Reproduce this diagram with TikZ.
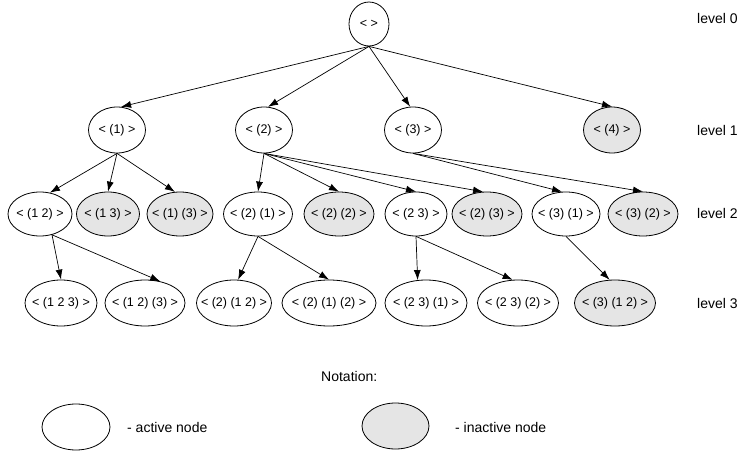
\documentclass[tikz,border=0pt]{standalone}
\usepackage{fontspec}
\setmainfont{Liberation Sans}
\usetikzlibrary{shapes.geometric,arrows.meta}
\newcommand\ndfont{\fontsize{12.5}{15}\selectfont}
\newcommand\lbfont{\fontsize{14}{17}\selectfont}
\newcommand\zb[1]{\makebox[0pt][c]{#1}}
\tikzset{
  nd/.style={ellipse, draw=black, line width=0.8pt, inner sep=0pt, font=\ndfont},
  act/.style={nd, fill=white},
  inact/.style={nd, fill=gray!20},
  edge/.style={-{Latex[length=10pt,width=7pt]}, line width=0.7pt},
  lvl/.style={font=\lbfont, anchor=west, inner sep=0pt}
}
\begin{document}
\begin{tikzpicture}[x=1pt,y=-1pt]
\useasboundingbox[fill=white] (0,0) rectangle (740,452);
% level 0
\node[act, minimum width=40pt, minimum height=44pt] (r) at (369,24) {\zb{< >}};
% level 1
\begin{scope}[every node/.append style={minimum height=46pt, minimum width=57pt}]
\node[act] (n1) at (117,130) {\zb{< (1) >}};
\node[act] (n2) at (264,130) {\zb{< (2) >}};
\node[act] (n3) at (413,130) {\zb{< (3) >}};
\node[inact] (n4) at (612,130) {\zb{< (4) >}};
\end{scope}
% level 2
\begin{scope}[every node/.append style={minimum height=44pt}]
\node[act, minimum width=64pt] (n12) at (40,214) {\zb{< (1 2) >}};
\node[inact, minimum width=63pt] (n13) at (108,214) {\zb{< (1 3) >}};
\node[inact, minimum width=66pt] (n1x3) at (180,214) {\zb{< (1) (3) >}};
\node[act, minimum width=69pt] (n2x1) at (258,214) {\zb{< (2) (1) >}};
\node[inact, minimum width=70pt] (n2x2) at (339,214) {\zb{< (2) (2) >}};
\node[act, minimum width=62pt] (n23) at (416,214) {\zb{< (2 3) >}};
\node[inact, minimum width=70pt] (n2x3) at (487,214) {\zb{< (2) (3) >}};
\node[act, minimum width=68pt] (n3x1) at (566,214) {\zb{< (3) (1) >}};
\node[inact, minimum width=70pt] (n3x2) at (643,214) {\zb{< (3) (2) >}};
\end{scope}
% level 3
\begin{scope}[every node/.append style={minimum height=46pt}]
\node[act, minimum width=72pt] (n123) at (61,303) {\zb{< (1 2 3) >}};
\node[act, minimum width=80pt] (n12x3) at (145,303) {\zb{< (1 2) (3) >}};
\node[act, minimum width=75pt] (n2x12) at (234,303) {\zb{< (2) (1 2) >}};
\node[act, minimum width=94pt] (n2x1x2) at (329,303) {\zb{< (2) (1) (2) >}};
\node[act, minimum width=82pt] (n23x1) at (426,303) {\zb{< (2 3) (1) >}};
\node[act, minimum width=81pt] (n23x2) at (518,303) {\zb{< (2 3) (2) >}};
\node[inact, minimum width=81pt] (n3x12) at (615,303) {\zb{< (3) (1 2) >}};
\end{scope}
% level labels
\node[lvl] (l0) at (697,18) {level 0};
\node[lvl] (l1) at (697,130) {level 1};
\node[lvl] (l2) at (697,213) {level 2};
\node[lvl] (l3) at (697,303) {level 3};
% edges
\draw[edge] (r.south) -- (n1.80);
\draw[edge] (r.south) -- (n2.80);
\draw[edge] (r.south) -- (n3.97);
\draw[edge] (r.south) -- (n4.north);
\draw[edge] (n1.south) -- (n12.65);
\draw[edge] (n1.south) -- (n13.north);
\draw[edge] (n1.south) -- (n1x3.103);
\draw[edge] (n2.south) -- (n2x1.north);
\draw[edge] (n2.south) -- (n2x2.north);
\draw[edge] (n2.south) -- (n23.north);
\draw[edge] (n2.south) -- (n2x3.100);
\draw[edge] (n3.south) -- (n3x1.100);
\draw[edge] (n3.south) -- (n3x2.north);
\draw[edge] (n12.-60) -- (n123.north);
\draw[edge] (n12.-60) -- (n12x3.55);
\draw[edge] (n2x1.south) -- (n2x12.80);
\draw[edge] (n2x1.south) -- (n2x1x2.north);
\draw[edge] (n23.south) -- (n23x1.110);
\draw[edge] (n23.south) -- (n23x2.103);
\draw[edge] (n3x1.south) -- (n3x12.103);
% notation
\node[lvl] (nt) at (321,376) {Notation:};
\node[act, minimum width=68pt, minimum height=46pt] (la) at (76,427) {};
\node[lvl] (lat) at (127,427) {- active node};
\node[inact, minimum width=67pt, minimum height=46pt] (li) at (395.5,426) {};
\node[lvl] (lit) at (455,427) {- inactive node};
\end{tikzpicture}
\end{document}
